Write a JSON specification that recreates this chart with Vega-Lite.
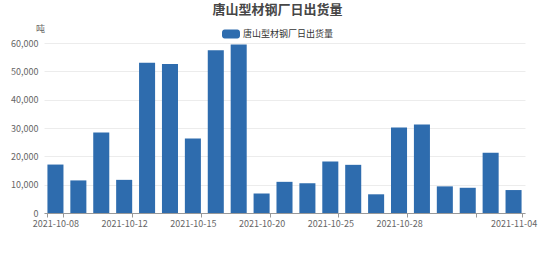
{
  "$schema": "https://vega.github.io/schema/vega-lite/v6.json",
  "autosize": "none",
  "width": 481,
  "height": 170,
  "padding": {"left": 44, "top": 43, "right": 29, "bottom": 57},
  "background": "#ffffff",
  "config": {
    "font": "Noto Sans CJK SC",
    "view": {"stroke": null}
  },
  "title": {
    "text": "唐山型材钢厂日出货量",
    "fontSize": 13,
    "fontWeight": "bold",
    "color": "#464646",
    "anchor": "middle",
    "dx": -7,
    "offset": 7
  },
  "data": {
    "values": [
      {"date": "2021-10-08", "value": 17100},
      {"date": "2021-10-09", "value": 11500},
      {"date": "2021-10-11", "value": 28400},
      {"date": "2021-10-12", "value": 11700},
      {"date": "2021-10-13", "value": 53000},
      {"date": "2021-10-14", "value": 52600},
      {"date": "2021-10-15", "value": 26300},
      {"date": "2021-10-18", "value": 57400},
      {"date": "2021-10-19", "value": 59500},
      {"date": "2021-10-20", "value": 6900},
      {"date": "2021-10-21", "value": 11000},
      {"date": "2021-10-22", "value": 10500},
      {"date": "2021-10-25", "value": 18200},
      {"date": "2021-10-26", "value": 17000},
      {"date": "2021-10-27", "value": 6600},
      {"date": "2021-10-28", "value": 30200},
      {"date": "2021-10-29", "value": 31200},
      {"date": "2021-11-01", "value": 9400},
      {"date": "2021-11-02", "value": 8900},
      {"date": "2021-11-03", "value": 21300},
      {"date": "2021-11-04", "value": 8100}
    ]
  },
  "mark": {"type": "bar"},
  "encoding": {
    "x": {
      "field": "date",
      "type": "nominal",
      "sort": null,
      "scale": {"paddingInner": 0.3, "paddingOuter": 0.15},
      "axis": {
        "title": null,
        "labelAngle": 0,
        "values": ["2021-10-08", "2021-10-12", "2021-10-15", "2021-10-20", "2021-10-25", "2021-10-28", "2021-11-02", "2021-11-04"],
        "labelExpr": "datum.value == '2021-11-02' ? '' : datum.value",
        "tickBand": "extent",
        "labelFontSize": 9,
        "labelColor": "#666666",
        "labelPadding": 2,
        "labelFont": "Noto Sans CJK SC",
        "domainColor": "#999999",
        "tickColor": "#999999",
        "tickSize": 4,
        "labelOverlap": false,
        "labelBound": false,
        "labelFlush": false
      }
    },
    "y": {
      "field": "value",
      "type": "quantitative",
      "scale": {"domain": [0, 60000], "nice": false},
      "axis": {
        "title": "吨",
        "titleAngle": 0,
        "titleX": -4,
        "titleY": -15,
        "titleAlign": "center",
        "titleBaseline": "middle",
        "titleFontSize": 9,
        "titleFontWeight": "normal",
        "titleColor": "#666666",
        "values": [0, 10000, 20000, 30000, 40000, 50000, 60000],
        "format": ",d",
        "labelFontSize": 9,
        "labelColor": "#666666",
        "labelPadding": 6,
        "domain": false,
        "ticks": false,
        "gridColor": "#ececec"
      }
    },
    "color": {
      "datum": "唐山型材钢厂日出货量",
      "type": "nominal",
      "scale": {"range": ["#2e6cae"]},
      "legend": {
        "title": null,
        "orient": "none",
        "legendX": 178,
        "legendY": -18,
        "padding": 0,
        "symbolType": "M-0.7,-0.5H0.7A0.3,0.3 0 0 1 1,-0.2V0.2A0.3,0.3 0 0 1 0.7,0.5H-0.7A0.3,0.3 0 0 1 -1,0.2V-0.2A0.3,0.3 0 0 1 -0.7,-0.5Z",
        "symbolSize": 324,
        "symbolStrokeWidth": 0,
        "symbolOpacity": 1,
        "labelFontSize": 9,
        "labelColor": "#333333",
        "labelOffset": 3
      }
    }
  }
}
